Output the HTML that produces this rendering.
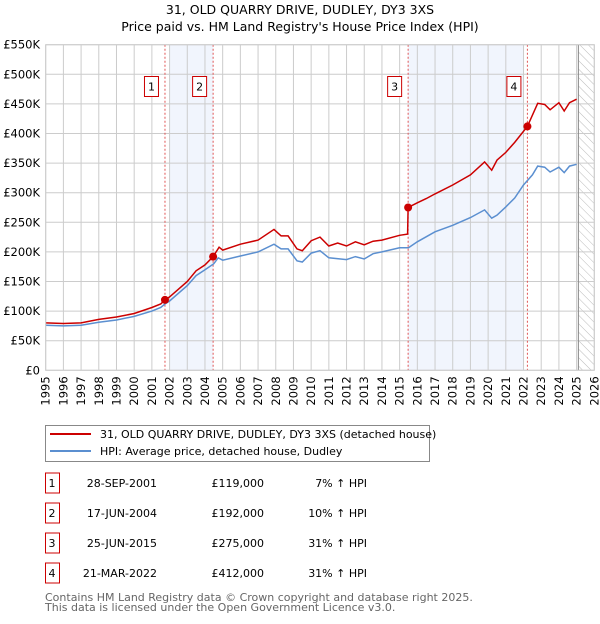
<!DOCTYPE html>
<html><head><meta charset="utf-8"><style>
body{margin:0;background:#fff;font-family:"DejaVu Sans","Liberation Sans",sans-serif;}
svg text{font-family:"DejaVu Sans","Liberation Sans",sans-serif;}
</style></head><body>
<svg id="c" width="600" height="620" xmlns="http://www.w3.org/2000/svg">
<defs><pattern id="hatch" width="6" height="6" patternUnits="userSpaceOnUse" patternTransform="rotate(-45)"><line x1="0" y1="0" x2="0" y2="6" stroke="#bbb" stroke-width="1"/></pattern></defs>
<text x="300" y="14" text-anchor="middle" font-size="12.5" fill="#000">31, OLD QUARRY DRIVE, DUDLEY, DY3 3XS</text>
<text x="300" y="31" text-anchor="middle" font-size="12.5" fill="#000">Price paid vs. HM Land Registry's House Price Index (HPI)</text>
<g id="plot"></g>
<g>
<rect x="45.5" y="425.5" width="384" height="36" fill="#fff" stroke="#888"/>
<line x1="50" y1="434" x2="91" y2="434" stroke="#cc0000" stroke-width="2"/>
<text x="100" y="438" font-size="11">31, OLD QUARRY DRIVE, DUDLEY, DY3 3XS (detached house)</text>
<line x1="50" y1="451" x2="91" y2="451" stroke="#5b8fd0" stroke-width="2"/>
<text x="100" y="455" font-size="11">HPI: Average price, detached house, Dudley</text>
</g>
<g id="tbl" font-size="11"></g>
<text x="45" y="601" font-size="11" fill="#666">Contains HM Land Registry data © Crown copyright and database right 2025.</text>
<text x="45" y="611" font-size="11" fill="#666">This data is licensed under the Open Government Licence v3.0.</text>
</svg>
<script>
const hpiYears=[1995,1996,1997,1998,1999,2000,2001,2001.5,2001.74,2002,2003,2003.5,2004,2004.5,2004.75,2005,2006,2007,2007.9,2008.3,2008.7,2009.2,2009.5,2010,2010.5,2011,2012,2012.5,2013,2013.5,2014,2015,2015.5,2016,2017,2018,2019,2019.8,2020.2,2020.5,2021,2021.5,2022,2022.5,2022.8,2023.2,2023.5,2024,2024.3,2024.6,2025];
const hpiValues=[76,75,76,81,85,91,100,106,112,117,143,160,170,180,190,186,193,200,213,205,205,185,183,198,202,190,187,192,188,197,200,207,207,217,234,245,258,271,257,262,276,291,313,330,345,343,335,343,334,345,348];
const redYears=[1995,1996,1997,1998,1999,2000,2001,2001.5,2001.74,2002,2003,2003.5,2004,2004.46,2004.8,2005,2006,2007,2007.9,2008.3,2008.7,2009.2,2009.5,2010,2010.5,2011,2011.5,2012,2012.5,2013,2013.5,2014,2015,2015.45,2015.48,2016,2016.5,2017,2018,2019,2019.8,2020.2,2020.5,2021,2021.5,2022.22,2022.8,2023.2,2023.5,2024,2024.3,2024.6,2025];
const redValues=[80,79,80,86,90,96,106,112,119,124,150,168,178,192,208,203,213,220,238,227,227,205,202,219,225,210,215,210,217,212,218,220,228,230,275,283,290,298,313,330,352,338,355,368,385,412,451,449,440,452,438,452,458];
const saleYears=[2001.74,2004.46,2015.48,2022.22];
const saleValues=[119,192,275,412];
const saleLabels=["1","2","3","4"];
const saleDates=["28-SEP-2001","17-JUN-2004","25-JUN-2015","21-MAR-2022"];
const salePrices=["£119,000","£192,000","£275,000","£412,000"];
const saleHpi=["7% ↑ HPI","10% ↑ HPI","31% ↑ HPI","31% ↑ HPI"];
const shadeStart=[2002.0,2015.48];
const shadeEnd=[2004.46,2022.0];
const yTicks=[0,50,100,150,200,250,300,350,400,450,500,550];
const yTickLabels=["£0","£50K","£100K","£150K","£200K","£250K","£300K","£350K","£400K","£450K","£500K","£550K"];
const xTicks=[1995,1996,1997,1998,1999,2000,2001,2002,2003,2004,2005,2006,2007,2008,2009,2010,2011,2012,2013,2014,2015,2016,2017,2018,2019,2020,2021,2022,2023,2024,2025,2026];

const NS="http://www.w3.org/2000/svg";
const X0=45.7,X1=594.3,Y0=370.3,Y1=44.7;
const xs=y=>X0+(y-1995)/(2026-1995)*(X1-X0);
const ys=v=>Y0-v/550*(Y0-Y1);
const plot=document.getElementById('plot');
function mk(tag,attrs,parent){const e=document.createElementNS(NS,tag);for(const k in attrs)e.setAttribute(k,attrs[k]);(parent||plot).appendChild(e);return e;}
for(let i=0;i<shadeStart.length;i++){
 const r=mk('rect',{x:xs(shadeStart[i]),y:Y1,width:xs(shadeEnd[i])-xs(shadeStart[i]),height:Y0-Y1,fill:'#eef3fc','fill-opacity':0.8});
 
 
}
const h=mk('rect',{x:xs(2025.1),y:Y1,width:X1-xs(2025.1),height:Y0-Y1,fill:'url(#hatch)'});


xTicks.forEach(t=>{const l=mk('line',{x1:xs(t),x2:xs(t),y1:Y1,y2:Y0,stroke:'#ccc','stroke-width':1});
 
 
 const tx=mk('text',{x:0,y:0,'font-size':11.5,'text-anchor':'end',transform:`translate(${xs(t)+4},${Y0+6}) rotate(-90)`});
 tx.textContent=t;
 
 
});
yTicks.forEach((t,i)=>{const l=mk('line',{x1:X0,x2:X1,y1:ys(t),y2:ys(t),stroke:'#ccc','stroke-width':1});
 
 
 const tx=mk('text',{x:40,y:ys(t)+4,'font-size':11.5,'text-anchor':'end'});
 tx.textContent=yTickLabels[i];
 
 
});
const vl=mk('line',{x1:xs(2025.1),x2:xs(2025.1),y1:Y1,y2:Y0,stroke:'#888','stroke-width':1});


saleYears.forEach((s,i)=>{const l=mk('line',{x1:xs(s),x2:xs(s),y1:Y1,y2:Y0,stroke:'#e05555','stroke-width':1,'stroke-dasharray':'2,2'});
 
 
 const b=mk('rect',{x:xs(s)-20.5,y:76.5,width:14,height:20,fill:'#fff',stroke:'#cc0000'});
 
 
 const t=mk('text',{x:xs(s)-13.5,y:90.5,'font-size':11,'text-anchor':'middle'});
 t.textContent=saleLabels[i];
 
 
});
const pts=(a,b)=>a.map((y,i)=>xs(y).toFixed(1)+','+ys(b[i]).toFixed(1)).join(' ');
const hl=mk('polyline',{points:pts(hpiYears,hpiValues),fill:'none',stroke:'#5b8fd0','stroke-width':1.5});


const rl=mk('polyline',{points:pts(redYears,redValues),fill:'none',stroke:'#cc0000','stroke-width':1.5});


saleYears.forEach((s,i)=>{const c=mk('circle',{cx:xs(s),cy:ys(saleValues[i]),r:4,fill:'#cc0000'});
 
 
});
const fr=mk('rect',{x:X0,y:Y1,width:X1-X0,height:Y0-Y1,fill:'none',stroke:'#ccc'});


const tbl=document.getElementById('tbl');
saleLabels.forEach((lab,i)=>{const cy=483+i*30;
 const b=mk('rect',{x:45.5,y:cy-10,width:14,height:20,fill:'#fff',stroke:'#cc0000'},tbl);
 
 
 const cols=[[lab,52,'middle'],[saleDates[i],157,'end'],[salePrices[i],264,'end'],[saleHpi[i],367,'end']];
 const names=['table-row-number','table-date','table-price','table-hpi-change'];
 cols.forEach((c,j)=>{const t=mk('text',{x:c[1],y:cy+4,'text-anchor':c[2]},tbl);
  t.textContent=c[0];
  
  
 });
});
</script>
</body></html>
